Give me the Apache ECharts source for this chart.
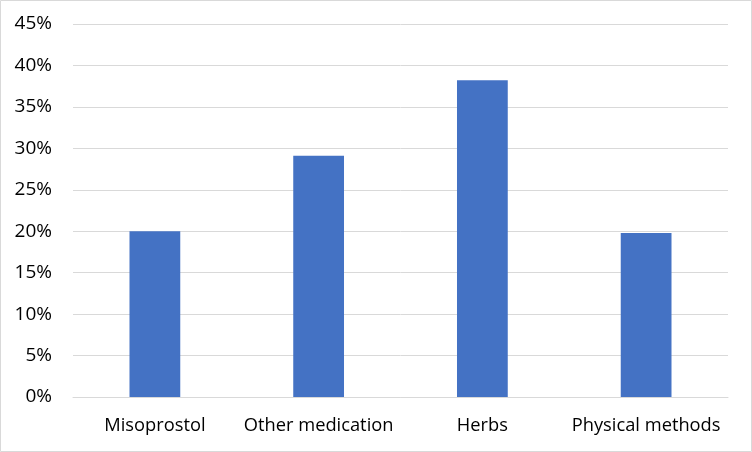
<!DOCTYPE html>
<html><head><meta charset="utf-8">
<script src="https://cdn.jsdelivr.net/npm/echarts@6/dist/echarts.min.js"></script>
<style>html,body{margin:0;padding:0;background:#fff}#c{width:752px;height:452px}</style>
</head><body><div id="c"></div>
<script>
const categories = ['Misoprostol', 'Other medication', 'Herbs', 'Physical methods'];
const values = [20.0, 29.1, 38.2, 19.8];
const yTicks = [0, 5, 10, 15, 20, 25, 30, 35, 40, 45];

const chart = echarts.init(document.getElementById('c'), null, {renderer: 'canvas'});
chart.setOption({
  animation: false,
  graphic: [{type: 'rect', shape: {x: 0.5, y: 0.5, width: 751, height: 451}, style: {fill: 'none', stroke: '#d9d9d9', lineWidth: 1}, silent: true}],
  grid: {left: 73, right: 24, top: 24, bottom: 55},
  xAxis: {
    type: 'category', data: categories,
    axisLine: {lineStyle: {color: '#d9d9d9', width: 1}},
    axisTick: {show: false},
    axisLabel: {color: '#000', fontFamily: 'Open Sans', fontSize: 18.3, margin: 20, interval: 0, hideOverlap: false}
  },
  yAxis: {
    type: 'value', min: yTicks[0], max: yTicks[yTicks.length - 1], interval: 5,
    axisLine: {show: false}, axisTick: {show: false},
    splitLine: {lineStyle: {color: '#d9d9d9', width: 1}},
    axisLabel: {color: '#000', fontFamily: 'Open Sans', fontSize: 19, margin: 21, formatter: v => v + '%'}
  },
  series: [{type: 'bar', data: values, barWidth: '31%', itemStyle: {color: '#4472c4'}}]
});
</script></body></html>
